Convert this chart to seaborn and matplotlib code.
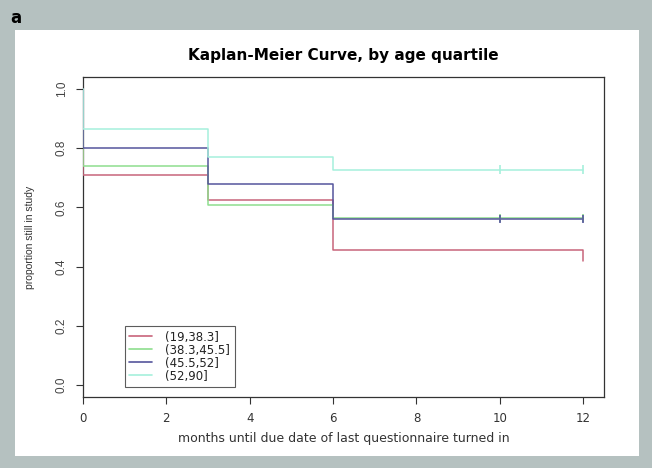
import matplotlib
matplotlib.use("Agg")
import matplotlib.pyplot as plt
from matplotlib.patches import Rectangle
from matplotlib.lines import Line2D
import numpy as np
import pandas as pd
import seaborn as sns

# Kaplan-Meier step values
groups = ["(19,38.3]", "(38.3,45.5]", "(45.5,52]", "(52,90]"]
times = [0, 0, 3, 6, 12, 12]
surv_19_38 = [1.0, 0.709, 0.625, 0.456, 0.456, 0.420]
surv_38_45 = [1.0, 0.740, 0.608, 0.564, 0.564, 0.564]
surv_45_52 = [1.0, 0.800, 0.679, 0.561, 0.561, 0.561]
surv_52_90 = [1.0, 0.865, 0.770, 0.727, 0.727, 0.727]

# censoring marks (+) at 10 and 12 months
cens_times = [10, 12]
cens_groups = ["(38.3,45.5]", "(45.5,52]", "(52,90]"]
cens_surv = [0.564, 0.561, 0.727]

colors = ["#c8647a", "#8ede8e", "#55559c", "#a6f0dc"]
palette = dict(zip(groups, colors))

rows = []
for g, s in zip(groups, [surv_19_38, surv_38_45, surv_45_52, surv_52_90]):
    for t, v in zip(times, s):
        rows.append({"time": t, "surv": v, "group": g})
km = pd.DataFrame(rows)

crows = []
for g, v in zip(cens_groups, cens_surv):
    for t in cens_times:
        crows.append({"time": t, "surv": v, "group": g})
cens = pd.DataFrame(crows)

sns.set_style("white")
plt.rcParams["font.family"] = ["DejaVu Sans"]

fig = plt.figure(figsize=(6.52, 4.68), dpi=100)
fig.patch.set_facecolor("#b5c1c0")
# white panel behind the plot
fig.patches.append(Rectangle((15 / 652, 1 - 456 / 468), 624 / 652, 426 / 468,
                             transform=fig.transFigure, facecolor="white",
                             edgecolor="none", zorder=-5))
fig.text(10 / 652, 1 - 18 / 468, "a", fontsize=12, fontweight="bold",
         color="black", va="center", ha="left")

ax = fig.add_axes([83 / 652, 1 - 397 / 468, 521 / 652, 320 / 468])
ax.set_zorder(2)
ax.set_facecolor("white")

sns.lineplot(data=km, x="time", y="surv", hue="group", palette=palette,
             estimator=None, sort=False, drawstyle="steps-post", lw=1.1,
             legend=False, ax=ax, zorder=3)
sns.scatterplot(data=cens, x="time", y="surv", hue="group", palette=palette,
                marker="|", s=40, linewidth=1.2, legend=False, ax=ax, zorder=4)

ax.set_xlim(0, 12.5)
ax.set_ylim(-0.04, 1.04)
ax.set_xticks([0, 2, 4, 6, 8, 10, 12])
ax.set_yticks([0.0, 0.2, 0.4, 0.6, 0.8, 1.0])
for sp in ax.spines.values():
    sp.set_color("#333333")
    sp.set_linewidth(0.9)
ax.tick_params(direction="out", length=5, width=0.8, color="#333333",
               bottom=True, left=True, labelsize=8.5, labelcolor="#333333",
               pad=6)
ax.set_yticklabels(["0.0", "0.2", "0.4", "0.6", "0.8", "1.0"], rotation=90,
                   va="center", family="Liberation Sans", fontsize=8.5,
                   color="#444444")

ax.set_xlabel("months until due date of last questionnaire turned in",
              fontsize=9, color="#333333", labelpad=5)
ax.set_ylabel("proportion still in study", fontsize=7.5, color="#333333",
              labelpad=15, family="Liberation Sans")
ax.set_title("Kaplan-Meier Curve, by age quartile", fontsize=11,
             fontweight="bold", color="black", pad=12)

handles = [Line2D([0], [0], color=c, lw=1.2) for c in colors]
leg = ax.legend(handles, groups, loc="upper left",
                bbox_to_anchor=(1.0, 0.2), bbox_transform=ax.transData,
                fontsize=8.5, frameon=True, fancybox=False, handlelength=1.95,
                handletextpad=1.1, labelspacing=0.0, borderpad=0.4,
                borderaxespad=0)
leg.get_frame().set_edgecolor("#333333")
leg.get_frame().set_linewidth(0.8)
for t in leg.get_texts():
    t.set_color("#222222")

fig.savefig("out.png", dpi=100, facecolor=fig.get_facecolor())
